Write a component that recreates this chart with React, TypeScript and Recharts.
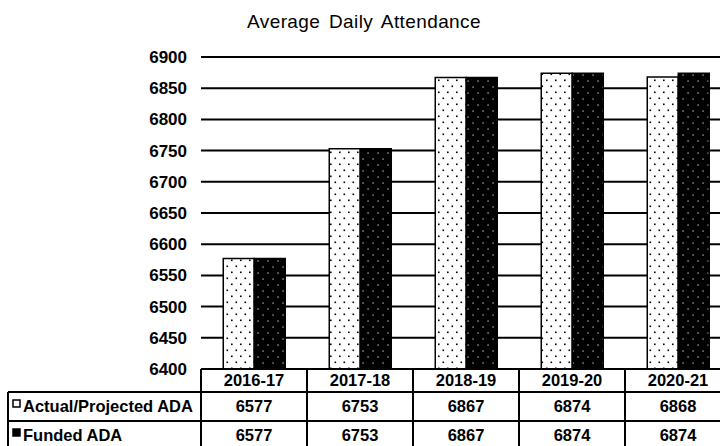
import { Bar, BarChart, CartesianGrid, XAxis, YAxis } from "recharts";

const years = ["2016-17", "2017-18", "2018-19", "2019-20", "2020-21"];
const actualAda = [6577, 6753, 6867, 6874, 6868];
const fundedAda = [6577, 6753, 6867, 6874, 6874];
const yTicks = [6400, 6450, 6500, 6550, 6600, 6650, 6700, 6750, 6800, 6850, 6900];

const rows = [
  { key: "actual", name: "Actual/Projected ADA", marker: "#fff" },
  { key: "funded", name: "Funded ADA", marker: "#000" },
];

const data = years.map((year, i) => ({
  year,
  actual: actualAda[i],
  funded: fundedAda[i],
}));

const FONT = "'Liberation Sans', Arial, sans-serif";
const CHART_H = 446;
const TABLE_LEFT = 8;
const ROW_H = [23, 29];

// x-axis tick draws one column of the data table under its category
function TableTick(props: any) {
  const { x, y, payload, index } = props;
  const half = payload.offset || 53;
  const left = x - half;
  const right = x + half;
  const top = y;
  const r1 = top + ROW_H[0];
  const r2 = r1 + ROW_H[1];
  const row = data[index] as any;
  const line = { stroke: "#000", strokeWidth: 2 };
  const txt = { fontFamily: FONT, fontSize: 16.5, fontWeight: 700, fill: "#000", textAnchor: "middle" as const };

  return (
    <g>
      <line x1={left} y1={top} x2={left} y2={CHART_H} {...line} />
      <line x1={right} y1={top} x2={right} y2={CHART_H} {...line} />
      <line x1={left} y1={r1} x2={right} y2={r1} {...line} />
      <line x1={left} y1={r2} x2={right} y2={r2} {...line} />
      <text x={x} y={top + 17} {...txt}>{payload.value}</text>
      <text x={x} y={r1 + 20} {...txt}>{row.actual}</text>
      <text x={x} y={r2 + 20} {...txt}>{row.funded}</text>
      {index === 0 && (
        <g>
          <line x1={TABLE_LEFT} y1={r1} x2={left} y2={r1} {...line} />
          <line x1={TABLE_LEFT} y1={r2} x2={left} y2={r2} {...line} />
          <line x1={TABLE_LEFT} y1={r1} x2={TABLE_LEFT} y2={CHART_H} {...line} />
          {rows.map((r, i) => {
            const ry = i === 0 ? r1 : r2;
            return (
              <g key={r.key}>
                <rect x={TABLE_LEFT + 5} y={ry + 8} width={7} height={7} fill={r.marker} stroke="#000" strokeWidth={1.5} />
                <text x={TABLE_LEFT + 15} y={ry + 20} {...txt} textAnchor="start">{r.name}</text>
              </g>
            );
          })}
        </g>
      )}
    </g>
  );
}

export default function App() {
  return (
    <div style={{ position: "fixed", left: 0, top: 0, width: 720, height: 446, overflow: "hidden", background: "#fff" }}>
      <div
        style={{
          position: "absolute",
          left: 0,
          top: 11,
          width: 728,
          textAlign: "center",
          fontFamily: FONT,
          fontSize: 19,
          lineHeight: "22px",
          letterSpacing: 0.4,
          wordSpacing: 3,
        }}
      >
        Average Daily Attendance
      </div>
      <BarChart
        width={740}
        height={CHART_H}
        data={data}
        margin={{ top: 57, right: 9, left: 0, bottom: 0 }}
        barCategoryGap="21%"
        barGap={0}
      >
        <defs>
          <pattern id="dotsLight" width="9" height="12" patternUnits="userSpaceOnUse">
            <rect width="9" height="12" fill="#fff" />
            <rect x="1.5" y="1.5" width="1.6" height="1.6" fill="#000" />
            <rect x="6" y="7.5" width="1.6" height="1.6" fill="#000" />
          </pattern>
          <pattern id="dotsDark" width="10" height="12" patternUnits="userSpaceOnUse">
            <rect width="10" height="12" fill="#000" />
            <rect x="2.5" y="2.5" width="1.1" height="1.1" fill="#fff" />
            <rect x="7.5" y="8.5" width="1.1" height="1.1" fill="#fff" />
          </pattern>
        </defs>
        <CartesianGrid vertical={false} stroke="#000" strokeWidth={2} />
        <XAxis
          dataKey="year"
          height={77}
          tickLine={false}
          tickSize={0}
          tickMargin={0}
          axisLine={{ stroke: "#000", strokeWidth: 2 }}
          tick={<TableTick />}
          interval={0}
        />
        <YAxis
          width={201}
          domain={[6400, 6900]}
          ticks={yTicks}
          allowDataOverflow
          axisLine={false}
          tickLine={false}
          tickSize={0}
          tickMargin={14}
          tick={{ fontFamily: FONT, fontSize: 17, fontWeight: 700, fill: "#000" }}
        />
        <Bar dataKey="actual" name="Actual/Projected ADA" fill="url(#dotsLight)" stroke="#000" strokeWidth={1.5} isAnimationActive={false} />
        <Bar dataKey="funded" name="Funded ADA" fill="url(#dotsDark)" stroke="#000" strokeWidth={1.5} isAnimationActive={false} />
      </BarChart>
    </div>
  );
}
